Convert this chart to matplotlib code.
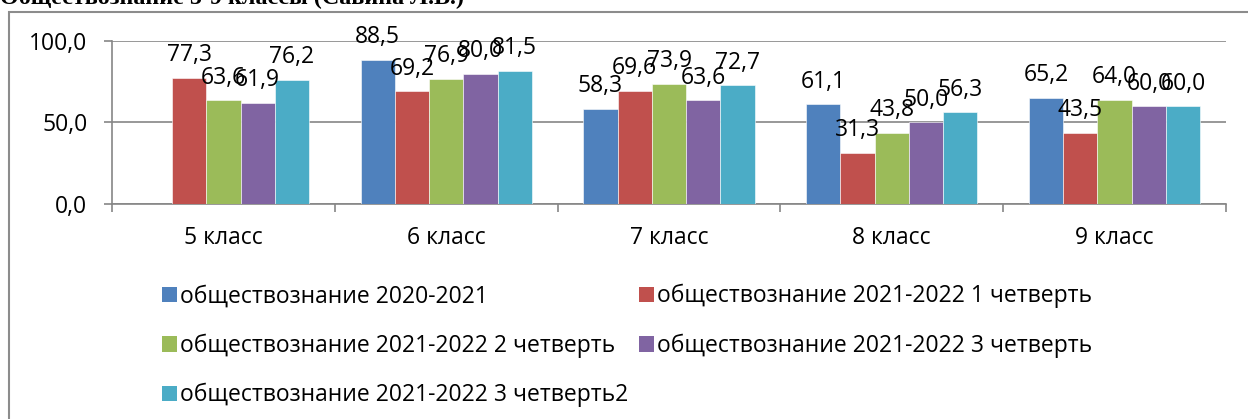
import numpy as np
import matplotlib
matplotlib.use('Agg')
from matplotlib import pyplot as plt
from matplotlib.patches import Patch, Rectangle

# данные диаграммы
classes = ['5 класс', '6 класс', '7 класс', '8 класс', '9 класс']
series_names = ['обществознание 2020-2021',
                'обществознание 2021-2022 1 четверть',
                'обществознание 2021-2022 2 четверть',
                'обществознание 2021-2022 3 четверть',
                'обществознание 2021-2022 3 четверть2']
y2020 = [np.nan, 88.5, 58.3, 61.1, 65.2]
q1 = [77.3, 69.2, 69.6, 31.3, 43.5]
q2 = [63.6, 76.9, 73.9, 43.8, 64.0]
q3 = [61.9, 80.0, 63.6, 50.0, 60.0]
q3b = [76.2, 81.5, 72.7, 56.3, 60.0]
y_ticks = [0, 50, 100]

colors = ['#4F81BD', '#C0504D', '#9BBB59', '#8064A2', '#4BACC6']
grey = '#868686'
fs = 16.5

plt.rcParams['font.family'] = ['Open Sans', 'DejaVu Sans']

W, H = 1248, 419
fig = plt.figure(figsize=(W / 100, H / 100), dpi=100)

# рамка вокруг диаграммы
fig.add_artist(Rectangle((9 / W, -0.1), 1.2, 1 - 12 / H + 0.1, transform=fig.transFigure,
                         fill=False, edgecolor='#8c8c8c', lw=1.5))

fig.text(0.0, 1 - 3.5 / H, 'Обществознание 5-9 классы (Савина Л.В.)',
         family=['Liberation Serif', 'DejaVu Serif'], fontweight='bold', fontsize=17.4,
         ha='left', va='baseline')

ax = fig.add_axes([112 / W, 1 - 204 / H, 1114 / W, 163 / H])

x = np.arange(len(classes))
width = 1 / 6.5
all_series = [y2020, q1, q2, q3, q3b]
for i, vals in enumerate(all_series):
    pos = x + (i - 2) * width
    ax.bar(pos, vals, width, color=colors[i], edgecolor='white', linewidth=0.4, zorder=3)
    for px, v in zip(pos, vals):
        if np.isnan(v):
            continue
        ax.annotate(f'{v:.1f}'.replace('.', ','), (px, v), xytext=(0, 12),
                    textcoords='offset points', ha='center', va='baseline',
                    fontsize=fs, zorder=5)

ax.set_xlim(-0.5, len(classes) - 0.5)
ax.set_ylim(0, 100)
ax.set_yticks(y_ticks)
ax.set_yticklabels([f'{t:.1f}'.replace('.', ',') for t in y_ticks], fontsize=fs)
ax.set_xticks(np.arange(-0.5, len(classes), 1))
ax.set_xticklabels([])
ax.set_xticks(x, minor=True)
ax.set_xticklabels(classes, minor=True, fontsize=fs)
ax.tick_params(axis='x', which='major', length=5.8, width=1.2, color=grey, direction='out')
ax.tick_params(axis='x', which='minor', length=0, pad=16)
ax.tick_params(axis='y', length=5.8, width=1.2, color=grey, pad=12)
for s in ['top', 'right']:
    ax.spines[s].set_visible(False)
for s in ['left', 'bottom']:
    ax.spines[s].set_color(grey)
    ax.spines[s].set_linewidth(1.2)
ax.yaxis.grid(True, color=grey, linewidth=1.2, zorder=0)
ax.set_axisbelow(True)

handles = [Patch(facecolor=c) for c in colors]
order = [0, 2, 4, 1, 3]
fig.legend([handles[i] for i in order], [series_names[i] for i in order],
           loc='upper left', bbox_to_anchor=(162 / W, 1 - 284 / H), ncol=2,
           frameon=False, fontsize=fs, handlelength=0.65, handleheight=0.65,
           handletextpad=0.15, columnspacing=0.45, labelspacing=1.1,
           borderaxespad=0, borderpad=0)

fig.savefig('out.png', dpi=100)
